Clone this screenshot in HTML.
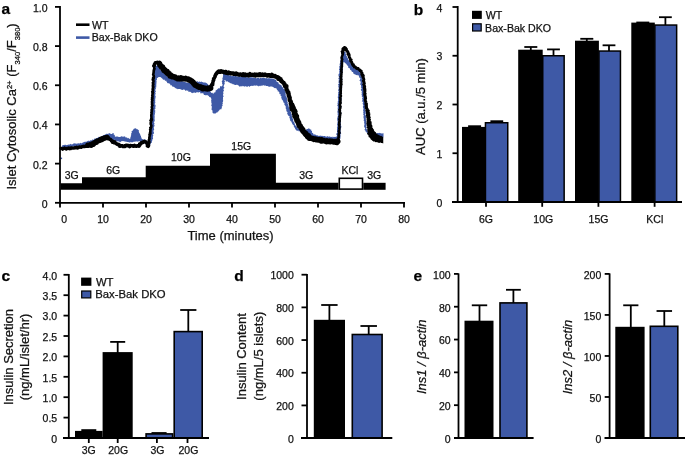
<!DOCTYPE html>
<html><head><meta charset="utf-8"><style>
html,body{margin:0;padding:0;background:#fff;width:685px;height:458px;overflow:hidden}
svg{display:block;will-change:transform}
text{font-family:"Liberation Sans", sans-serif;stroke:#111;stroke-width:0.25px;paint-order:stroke}
</style></head><body>
<svg width="685" height="458" viewBox="0 0 685 458">
<rect width="685" height="458" fill="#fff"/>
<path d="M60.5 189.8 L60.5 183.3 L82 183.3 L82 177.2 L145.7 177.2 L145.7 165.8 L210 165.8 L210 153.7 L275.9 153.7 L275.9 182.8 L338.5 182.8 L338.5 189.8 Z" fill="#000"/>
<path d="M363.3 189.8 L363.3 182.8 L385.6 182.8 L385.6 189.8 Z" fill="#000"/>
<rect x="339.3" y="178.3" width="23.2" height="10.8" fill="#fff" stroke="#000" stroke-width="1.6"/>
<text x="71.65" y="178.9" font-size="10.5" text-anchor="middle" font-weight="normal" font-style="normal" fill="#111" >3G</text>
<text x="113.2" y="173.7" font-size="10.5" text-anchor="middle" font-weight="normal" font-style="normal" fill="#111" >6G</text>
<text x="180.9" y="161" font-size="10.5" text-anchor="middle" font-weight="normal" font-style="normal" fill="#111" >10G</text>
<text x="241.3" y="149.7" font-size="10.5" text-anchor="middle" font-weight="normal" font-style="normal" fill="#111" >15G</text>
<text x="306.25" y="178.8" font-size="10.5" text-anchor="middle" font-weight="normal" font-style="normal" fill="#111" >3G</text>
<text x="350" y="173.7" font-size="10.5" text-anchor="middle" font-weight="normal" font-style="normal" fill="#111" >KCl</text>
<text x="374.3" y="178.8" font-size="10.5" text-anchor="middle" font-weight="normal" font-style="normal" fill="#111" >3G</text>
<path d="M61.99 145.22 L62.74 145.38 L63.43 145.06 L64.15 144.95 L64.85 144.67 L65.59 144.81 L66.36 145.15 L67.06 144.85 L67.80 144.96 L68.49 144.62 L69.21 144.59 L69.93 144.43 L70.58 143.76 L71.39 144.48 L72.10 144.28 L72.82 144.20 L73.46 143.42 L74.18 143.32 L74.93 143.51 L75.66 143.56 L76.41 143.72 L77.12 143.52 L77.86 143.62 L78.54 143.16 L79.29 143.38 L80.02 143.32 L80.64 142.82 L81.51 143.38 L82.11 142.84 L82.85 142.87 L83.39 142.13 L84.07 141.91 L84.79 141.86 L85.50 141.76 L86.24 141.81 L86.90 141.51 L87.54 141.12 L88.18 140.79 L88.91 140.74 L89.73 141.11 L90.26 140.30 L91.03 140.45 L91.74 140.33 L92.22 139.47 L93.11 139.63 L93.96 139.72 L94.25 138.44 L95.16 138.65 L95.89 138.43 L96.50 137.93 L97.36 138.03 L97.99 137.57 L98.52 136.87 L99.47 137.28 L100.12 136.96 L100.82 136.77 L101.55 136.65 L102.09 136.06 L102.73 135.72 L103.23 135.03 L104.13 135.33 L104.65 134.70 L105.34 134.47 L105.91 133.96 L106.62 133.78 L107.36 133.63 L108.18 134.16 L108.86 133.05 L109.62 133.18 L110.40 133.68 L111.09 134.11 L111.84 133.88 L112.62 133.14 L113.70 133.10 L113.63 134.47 L114.34 134.86 L114.87 135.39 L114.85 136.47 L115.75 136.63 L116.56 136.42 L117.34 136.53 L118.12 136.67 L118.86 137.12 L119.70 136.90 L120.42 136.76 L121.12 136.67 L121.73 135.90 L122.56 136.71 L123.15 136.50 L123.83 136.69 L124.88 136.31 L125.39 137.04 L125.88 137.80 L126.88 137.35 L127.41 137.96 L128.04 138.46 L128.87 137.85 L129.41 138.89 L130.30 138.64 L130.32 137.76 L130.63 137.07 L130.89 136.36 L130.89 135.60 L131.38 134.94 L130.98 134.09 L131.22 133.38 L131.83 132.75 L131.68 131.96 L131.56 131.17 L132.24 130.68 L132.96 130.43 L133.32 129.46 L133.86 128.75 L134.78 128.62 L135.50 128.15 L136.17 128.44 L136.54 129.25 L137.53 128.88 L137.71 129.78 L138.69 129.98 L138.87 130.71 L138.78 131.57 L138.96 132.30 L139.35 132.91 L139.75 133.50 L140.07 134.13 L140.32 134.78 L140.45 135.49 L140.93 136.06 L141.05 136.77 L141.22 137.46 L141.64 138.04 L141.74 138.88 L142.55 139.07 L143.12 139.72 L143.97 139.40 L144.74 139.37 L145.45 139.59 L145.98 140.15 L146.37 140.83 L147.19 140.97 L147.70 141.62 L148.74 141.48 L148.62 139.83 L149.49 139.81 L149.93 139.29 L150.03 138.58 L150.03 137.86 L149.86 137.13 L150.26 136.44 L150.19 135.72 L149.98 134.99 L150.98 134.34 L150.36 133.58 L150.12 132.84 L150.32 132.14 L150.33 131.42 L150.43 130.71 L149.63 129.94 L150.39 129.27 L150.92 128.59 L150.28 127.83 L150.68 127.14 L151.05 126.45 L151.07 125.73 L151.33 125.03 L150.36 124.25 L150.84 123.56 L150.89 122.85 L151.25 122.16 L151.45 121.45 L150.29 120.65 L151.55 120.02 L150.77 119.27 L151.48 118.58 L150.82 117.84 L151.38 117.15 L151.74 116.45 L151.34 115.71 L151.48 115.00 L151.71 114.30 L151.53 113.57 L151.49 112.86 L152.04 112.16 L151.91 111.44 L151.51 110.71 L152.52 110.04 L151.30 109.27 L152.00 108.58 L151.65 107.85 L151.81 107.14 L152.02 106.44 L151.90 105.72 L152.06 105.01 L151.40 104.26 L151.44 103.55 L152.15 102.87 L151.68 102.13 L151.69 101.41 L151.58 100.69 L152.48 100.02 L152.35 99.30 L152.61 98.59 L151.87 97.84 L152.21 97.14 L151.87 96.41 L152.51 95.73 L152.81 95.03 L152.05 94.27 L152.88 93.60 L152.73 92.87 L152.40 92.14 L151.87 91.39 L152.99 90.74 L152.54 90.00 L152.42 89.28 L152.78 88.58 L152.82 87.86 L153.21 87.17 L152.45 86.41 L153.17 85.73 L153.33 85.03 L153.35 84.31 L152.87 83.57 L152.73 82.84 L153.33 82.16 L153.08 81.43 L153.13 80.72 L153.58 80.03 L153.08 79.28 L152.47 78.53 L153.12 77.85 L152.69 77.11 L153.58 76.44 L153.46 75.72 L153.21 74.98 L153.54 74.27 L153.95 73.60 L153.86 72.82 L154.40 72.17 L154.11 71.36 L154.60 70.70 L154.89 70.00 L155.07 69.28 L154.50 68.41 L155.13 67.78 L154.53 66.62 L155.63 66.26 L156.30 65.58 L157.33 66.04 L158.22 66.17 L158.40 67.10 L158.95 67.76 L159.41 68.49 L160.10 68.93 L160.48 69.69 L160.68 70.59 L161.57 70.78 L161.94 71.44 L162.31 72.11 L163.08 72.43 L163.82 72.77 L164.12 73.47 L164.35 74.34 L165.48 74.14 L165.84 74.87 L166.08 75.73 L166.70 76.15 L167.43 76.43 L167.87 77.12 L168.65 77.22 L169.47 77.08 L170.19 77.24 L170.74 77.78 L171.22 78.51 L172.07 78.33 L172.79 78.50 L173.46 78.80 L174.23 78.84 L174.75 79.53 L175.55 79.48 L176.06 80.21 L177.12 79.62 L177.67 80.68 L178.56 80.62 L179.48 80.46 L180.05 81.53 L180.91 81.29 L181.77 80.75 L182.53 81.26 L183.29 81.71 L184.12 81.55 L184.85 82.10 L185.65 82.25 L186.46 82.39 L187.28 82.44 L188.03 82.92 L188.87 82.81 L189.68 82.84 L190.58 82.14 L191.26 83.18 L192.16 83.42 L192.73 82.61 L193.37 82.26 L194.35 82.67 L194.54 81.29 L195.49 81.64 L196.21 81.97 L196.95 80.98 L197.72 81.58 L198.50 82.04 L199.38 81.48 L200.17 81.78 L200.83 82.03 L201.63 81.60 L202.26 82.00 L202.92 82.26 L203.57 82.57 L204.32 82.45 L205.02 82.54 L205.98 82.63 L206.77 83.16 L207.41 83.81 L207.89 84.35 L208.48 84.96 L208.80 85.69 L208.08 86.87 L208.85 87.41 L209.31 88.07 L210.54 88.49 L209.81 89.56 L210.10 90.30 L209.99 91.17 L210.62 91.79 L211.02 92.49 L211.58 93.07 L212.67 92.85 L213.04 94.13 L213.62 93.30 L213.92 92.50 L214.94 92.38 L215.59 91.91 L215.39 90.63 L216.10 90.22 L216.86 89.87 L217.42 89.37 L217.87 88.75 L218.33 88.13 L219.54 88.41 L219.90 87.67 L220.02 86.64 L220.57 86.12 L221.77 86.40 L222.28 85.65 L222.64 84.80 L222.38 84.02 L221.90 83.23 L222.32 82.51 L221.61 81.69 L222.12 80.98 L222.40 80.25 L222.65 79.51 L222.31 78.73 L222.56 78.00 L222.85 77.24 L222.92 76.45 L223.10 75.68 L223.07 74.88 L223.00 74.07 L223.29 73.54 L223.94 73.76 L224.80 73.96 L225.47 74.18 L226.14 74.56 L226.88 74.70 L227.58 74.96 L228.31 75.09 L229.02 75.32 L229.77 75.40 L230.57 75.23 L231.18 75.93 L231.90 76.21 L232.65 76.09 L233.41 75.97 L234.12 76.25 L234.90 75.88 L235.66 75.66 L236.33 76.36 L237.10 76.13 L237.78 76.74 L238.54 76.19 L239.28 75.73 L239.98 76.27 L240.67 77.14 L241.42 76.54 L242.15 76.26 L242.87 76.49 L243.57 76.93 L244.29 76.96 L245.01 76.91 L245.69 77.37 L246.42 77.18 L247.15 76.99 L247.85 77.24 L248.54 77.63 L249.27 77.46 L249.98 77.53 L250.74 76.91 L251.43 77.27 L252.12 77.60 L252.86 77.33 L253.54 77.83 L254.27 77.73 L254.98 77.89 L255.74 77.57 L256.43 78.48 L257.18 78.10 L257.94 77.66 L258.67 77.80 L259.37 78.63 L260.12 77.71 L260.83 78.11 L261.54 78.16 L262.27 77.87 L262.99 77.51 L263.70 77.96 L264.43 78.06 L265.14 78.36 L265.88 78.30 L266.63 78.11 L267.35 78.42 L268.09 78.37 L268.83 78.33 L269.57 78.35 L270.31 78.32 L271.01 78.69 L271.80 78.20 L272.56 78.41 L273.20 78.98 L274.12 78.95 L274.67 79.62 L275.61 79.56 L276.13 80.32 L276.37 81.13 L276.87 81.63 L277.51 81.99 L278.05 82.45 L278.82 82.68 L278.59 83.91 L279.38 84.12 L279.75 84.75 L280.70 84.80 L281.04 85.46 L281.91 85.59 L281.82 86.68 L282.29 87.21 L283.49 87.15 L283.34 88.14 L283.47 88.89 L284.48 89.20 L284.82 89.84 L284.93 90.60 L285.13 91.31 L285.68 91.85 L285.59 92.70 L285.65 93.41 L285.65 94.14 L285.76 94.84 L285.63 95.59 L285.87 96.27 L286.77 96.83 L286.65 97.57 L286.95 98.24 L287.08 98.94 L286.89 99.70 L286.99 100.40 L286.97 101.13 L287.75 101.71 L287.76 102.43 L287.51 103.20 L287.82 103.88 L288.11 104.57 L288.30 105.29 L288.77 105.92 L288.59 106.78 L288.95 107.44 L289.35 108.09 L289.78 108.73 L289.89 109.48 L290.93 109.92 L290.62 110.84 L290.52 111.65 L291.21 112.24 L290.91 113.12 L291.14 113.84 L291.82 114.42 L291.69 115.25 L291.93 115.97 L291.91 116.77 L292.08 117.51 L292.49 118.17 L292.96 118.81 L293.00 119.58 L293.23 120.29 L293.25 121.08 L293.63 121.73 L294.19 122.32 L294.64 122.95 L294.60 123.76 L294.97 124.42 L295.30 125.00 L295.57 125.66 L296.19 126.05 L296.61 126.68 L297.06 127.27 L297.80 127.53 L297.76 128.67 L298.86 128.52 L299.38 129.37 L300.31 129.57 L300.98 130.34 L302.06 129.37 L302.83 130.01 L303.64 130.45 L304.55 130.69 L305.62 130.60 L305.90 129.58 L306.69 129.36 L307.35 128.96 L308.13 128.75 L308.77 128.36 L309.56 128.69 L310.17 129.40 L311.25 129.56 L311.05 130.62 L312.02 130.89 L312.05 131.73 L311.90 132.66 L312.92 132.91 L313.22 133.57 L313.37 134.50 L314.31 134.41 L315.10 134.35 L315.73 134.88 L316.42 135.18 L317.12 135.42 L317.95 135.16 L318.54 136.03 L319.24 136.08 L320.00 135.62 L320.69 135.78 L321.41 135.63 L322.05 136.29 L322.82 135.68 L323.48 136.20 L324.22 135.90 L324.92 135.91 L325.58 136.43 L326.30 136.68 L327.07 136.30 L327.82 136.14 L328.51 136.67 L329.27 136.45 L329.99 136.62 L330.70 137.06 L331.44 136.99 L332.21 136.51 L332.88 137.46 L333.67 136.79 L334.38 137.09 L335.15 136.69 L335.87 136.93 L336.25 136.57 L337.23 136.35 L337.16 135.64 L336.39 134.87 L336.36 134.16 L336.38 133.46 L337.33 132.83 L336.87 132.09 L337.06 131.40 L337.04 130.69 L337.16 130.00 L336.87 129.28 L337.24 128.57 L336.79 127.85 L337.24 127.14 L337.38 126.43 L337.45 125.72 L337.24 125.00 L337.04 124.28 L337.40 123.57 L337.21 122.85 L337.88 122.15 L337.65 121.43 L337.38 120.71 L337.28 120.00 L337.23 119.28 L337.17 118.56 L337.37 117.85 L337.59 117.15 L337.68 116.43 L337.72 115.72 L338.22 115.02 L337.34 114.28 L337.59 113.57 L338.49 112.88 L337.02 112.13 L337.47 111.42 L337.70 110.72 L337.72 110.00 L337.81 109.29 L337.62 108.57 L337.83 107.86 L337.75 107.14 L338.00 106.43 L337.16 105.70 L337.50 104.99 L337.80 104.29 L337.49 103.56 L337.50 102.85 L338.05 102.15 L337.66 101.42 L338.09 100.72 L338.14 100.01 L338.03 99.29 L338.12 98.58 L337.95 97.86 L337.56 97.12 L338.03 96.43 L338.22 95.72 L337.93 94.99 L338.10 94.28 L338.40 93.58 L337.90 92.85 L338.42 92.15 L338.84 91.45 L338.09 90.71 L338.35 90.00 L338.28 89.28 L338.85 88.59 L338.49 87.86 L338.70 87.15 L338.22 86.42 L338.47 85.71 L338.50 85.00 L337.96 84.26 L339.02 83.59 L338.87 82.87 L338.06 82.12 L338.88 81.44 L338.63 80.71 L338.84 80.01 L338.85 79.29 L338.28 78.55 L338.72 77.85 L339.29 77.16 L338.66 76.42 L338.54 75.70 L338.47 74.98 L338.54 74.27 L339.06 73.58 L339.53 72.88 L339.15 72.15 L339.12 71.43 L339.79 70.74 L338.93 69.99 L338.99 69.26 L339.47 68.59 L339.57 67.88 L339.18 67.10 L339.23 66.38 L339.79 65.73 L339.88 65.01 L339.49 64.23 L339.94 63.56 L339.93 62.83 L340.35 62.16 L340.26 61.42 L340.37 60.71 L340.39 59.98 L340.93 59.33 L341.14 58.63 L340.68 57.84 L341.17 57.18 L340.76 56.39 L341.12 55.72 L341.43 55.07 L341.94 54.53 L341.69 53.62 L342.08 52.99 L342.46 52.36 L342.26 51.47 L343.00 51.00 L343.76 51.14 L344.28 51.77 L345.27 51.75 L345.85 52.44 L345.50 53.34 L345.69 54.03 L346.19 54.60 L346.01 55.44 L346.61 55.97 L346.97 56.60 L346.90 57.39 L347.74 57.76 L347.91 58.49 L348.17 59.22 L348.38 59.99 L349.08 60.41 L349.39 61.11 L350.07 61.55 L350.25 62.33 L350.33 63.20 L351.38 63.37 L351.04 64.52 L352.23 64.48 L352.50 65.17 L352.89 65.76 L353.11 66.48 L354.11 66.59 L354.76 66.98 L354.51 68.06 L354.95 68.70 L355.72 68.98 L356.17 69.87 L357.17 69.46 L357.87 69.77 L358.41 70.23 L358.88 70.66 L358.91 71.48 L360.07 71.59 L360.22 72.34 L361.50 72.54 L360.50 73.85 L361.11 74.50 L360.97 75.39 L360.84 76.28 L361.75 76.83 L362.08 77.58 L362.27 78.31 L362.50 79.04 L362.55 79.78 L362.26 80.59 L362.57 81.29 L362.67 82.03 L362.86 82.76 L362.63 83.55 L362.88 84.27 L363.20 84.98 L363.06 85.76 L363.43 86.45 L363.87 87.15 L363.11 87.99 L363.51 88.69 L364.04 89.38 L363.46 90.19 L363.77 90.90 L364.46 91.58 L363.53 92.42 L364.01 93.12 L363.91 93.88 L364.21 94.59 L364.39 95.32 L364.92 96.01 L364.19 96.83 L364.57 97.54 L364.75 98.27 L364.62 99.03 L364.78 99.76 L364.67 100.51 L365.08 101.22 L365.05 101.97 L365.80 102.64 L365.33 103.43 L365.05 104.21 L364.92 104.97 L365.54 105.65 L365.54 106.40 L365.02 107.13 L365.66 107.83 L365.34 108.56 L365.07 109.28 L365.62 109.98 L365.27 110.71 L365.91 111.40 L365.64 112.13 L365.76 112.84 L365.73 113.56 L365.43 114.29 L365.05 115.02 L366.05 115.70 L366.05 116.41 L365.74 117.14 L366.26 117.84 L365.79 118.57 L365.79 119.29 L366.09 120.00 L365.88 120.74 L366.59 121.42 L365.89 122.20 L366.68 122.88 L366.45 123.62 L366.45 124.35 L366.45 125.08 L366.09 125.84 L366.38 126.55 L366.58 127.26 L366.33 128.04 L366.33 128.90 L367.10 129.40 L367.29 130.15 L367.34 130.96 L367.94 131.56 L368.79 131.33 L369.09 132.69 L369.78 132.82 L370.86 131.76 L371.34 132.57 L371.97 132.93 L372.77 133.19 L373.58 133.17 L374.41 132.95 L375.23 132.78 L376.00 133.23 L376.73 133.57 L377.52 132.93 L378.27 132.99 L379.00 133.35 L379.78 132.78 L380.50 133.36 L381.26 133.34 L381.99 133.66 L382.76 133.34 L383.52 133.32 L383.50 137.13 L382.78 137.02 L382.06 137.21 L381.33 137.00 L380.61 136.76 L379.89 136.62 L379.17 136.45 L378.44 137.25 L377.72 137.13 L376.94 137.79 L376.39 136.30 L375.57 137.03 L374.90 136.71 L374.22 136.43 L373.44 136.93 L372.82 136.25 L372.10 136.31 L371.32 136.78 L370.71 136.01 L370.17 135.66 L369.08 135.92 L369.18 134.82 L368.55 134.45 L368.11 133.89 L367.60 133.40 L367.30 132.70 L366.45 132.55 L366.22 131.83 L365.49 131.40 L365.40 130.55 L364.55 130.08 L364.69 129.29 L365.21 128.52 L364.73 127.84 L364.46 127.15 L364.08 126.47 L364.12 125.74 L364.36 124.99 L364.53 124.26 L364.29 123.56 L364.25 122.84 L364.00 122.14 L364.37 121.39 L363.75 120.73 L363.62 120.01 L364.04 119.27 L363.74 118.57 L363.58 117.86 L363.45 117.15 L363.51 116.43 L363.75 115.69 L363.62 114.98 L363.08 114.30 L363.56 113.55 L363.44 112.84 L363.02 112.15 L363.54 111.40 L363.16 110.70 L363.10 109.99 L363.42 109.25 L363.55 108.52 L362.86 107.84 L363.18 107.11 L362.72 106.42 L363.67 105.59 L362.70 104.94 L363.17 104.15 L362.52 103.47 L362.91 102.68 L363.29 101.90 L361.71 101.31 L362.31 100.51 L362.54 99.74 L362.28 99.02 L362.03 98.30 L362.85 97.47 L362.13 96.80 L361.50 96.12 L362.22 95.29 L361.32 94.64 L362.16 93.81 L361.53 93.13 L361.68 92.36 L361.96 91.59 L361.52 90.89 L360.96 90.20 L360.79 89.47 L361.63 88.64 L361.41 87.91 L360.84 87.23 L361.26 86.42 L361.04 85.70 L360.98 84.95 L359.95 84.35 L360.47 83.52 L360.74 82.73 L360.58 82.00 L360.52 81.25 L359.35 80.67 L360.08 79.81 L360.07 79.05 L360.62 78.22 L359.41 77.70 L359.21 76.95 L358.91 76.19 L358.68 75.28 L357.76 75.44 L357.20 74.75 L356.33 75.14 L355.72 74.62 L354.91 74.65 L354.54 73.96 L353.84 73.66 L353.14 73.36 L353.25 72.25 L352.57 71.93 L351.87 71.63 L351.55 70.95 L351.24 70.29 L350.32 70.12 L350.11 69.38 L349.85 68.68 L349.42 68.11 L348.77 67.71 L347.89 67.48 L348.32 66.27 L347.69 65.84 L347.20 65.30 L346.73 64.75 L346.47 64.05 L345.89 63.59 L345.27 63.23 L344.83 62.67 L344.43 62.18 L343.75 62.20 L343.25 62.27 L342.76 62.71 L343.34 63.46 L342.67 64.15 L343.16 64.90 L342.69 65.59 L342.32 66.30 L342.66 67.04 L342.91 67.77 L342.62 68.48 L342.55 69.20 L343.11 69.95 L342.71 70.65 L342.43 71.36 L342.59 72.09 L342.37 72.80 L342.13 73.51 L342.08 74.23 L341.99 74.94 L342.05 75.67 L342.29 76.41 L342.17 77.12 L342.21 77.84 L342.18 78.57 L342.10 79.28 L342.55 80.02 L342.08 80.72 L341.96 81.43 L342.24 82.15 L341.91 82.86 L341.72 83.57 L341.91 84.29 L341.17 84.98 L342.64 85.74 L341.85 86.43 L342.35 87.16 L341.42 87.85 L340.87 88.54 L342.49 89.31 L341.63 90.00 L341.48 90.71 L341.72 91.43 L341.42 92.14 L342.29 92.88 L341.28 93.56 L341.40 94.28 L341.49 95.00 L341.66 95.72 L341.25 96.42 L341.58 97.15 L341.33 97.85 L341.54 98.58 L342.08 99.31 L341.34 100.00 L341.24 100.71 L341.04 101.42 L341.54 102.15 L341.25 102.86 L341.02 103.56 L341.14 104.28 L340.77 104.99 L340.51 105.69 L341.41 106.44 L341.71 107.16 L340.80 107.85 L340.56 108.56 L340.73 109.28 L340.74 109.99 L341.19 110.71 L341.20 111.42 L340.68 112.12 L341.24 112.83 L341.52 113.55 L341.25 114.25 L340.12 114.94 L340.29 115.65 L341.11 116.37 L341.11 117.08 L340.79 117.78 L341.09 118.49 L340.42 119.19 L340.85 119.90 L341.16 120.62 L340.39 121.31 L340.98 122.03 L340.71 122.73 L340.77 123.44 L340.86 124.15 L340.64 124.85 L340.95 125.56 L341.31 126.28 L341.41 126.99 L341.10 127.69 L340.93 128.39 L340.68 129.10 L340.64 129.80 L340.47 130.51 L340.60 131.22 L340.88 131.93 L340.84 132.64 L341.28 133.35 L340.64 134.05 L340.42 134.75 L340.39 135.46 L340.59 136.17 L340.59 136.88 L340.22 137.58 L340.51 138.29 L340.33 138.84 L339.78 138.88 L339.09 139.07 L338.36 138.78 L337.72 139.45 L337.01 139.45 L336.32 139.66 L335.62 139.72 L334.85 139.04 L334.15 139.04 L333.50 139.66 L332.78 139.55 L332.06 139.43 L331.38 139.61 L330.66 139.55 L330.00 140.40 L329.27 140.13 L328.59 139.71 L327.90 139.33 L327.15 139.68 L326.40 139.92 L325.70 139.68 L324.98 139.71 L324.26 139.70 L323.62 138.88 L322.84 139.48 L322.14 139.21 L321.50 138.45 L320.75 138.69 L320.01 138.89 L319.27 139.09 L318.62 138.67 L317.97 138.19 L317.23 138.40 L316.56 138.10 L315.80 138.37 L315.12 138.14 L314.39 138.26 L313.72 137.96 L313.14 137.61 L312.14 138.03 L311.72 137.29 L311.13 136.84 L310.36 136.70 L309.77 136.27 L309.31 135.60 L308.86 134.90 L308.01 134.92 L307.32 134.64 L306.39 134.79 L306.27 133.44 L305.29 133.69 L304.57 133.44 L303.72 133.48 L303.14 132.87 L302.30 132.90 L301.72 132.26 L301.06 131.86 L300.32 131.71 L299.66 131.35 L298.84 131.39 L298.43 130.43 L297.49 130.76 L296.66 130.82 L296.16 130.05 L295.61 129.53 L295.15 128.98 L294.94 128.26 L294.72 127.55 L293.94 127.21 L293.83 126.42 L293.86 125.55 L293.27 125.08 L292.66 124.62 L292.41 123.93 L292.02 123.32 L291.71 122.66 L291.61 121.90 L291.05 121.36 L290.06 121.04 L290.42 120.05 L289.84 119.51 L290.04 118.63 L289.40 118.07 L289.36 117.28 L289.71 116.36 L288.49 116.02 L288.20 115.33 L287.86 114.66 L287.30 114.07 L287.20 113.31 L287.61 112.36 L287.04 111.81 L286.41 111.28 L286.25 110.57 L286.61 109.65 L285.92 109.15 L285.78 108.43 L285.71 107.68 L285.75 106.88 L285.65 106.15 L285.11 105.58 L284.58 105.02 L284.32 104.35 L284.54 103.48 L284.15 102.86 L283.37 102.40 L283.33 101.64 L283.01 100.99 L282.67 100.35 L282.24 99.74 L281.72 99.17 L281.69 98.41 L281.12 97.86 L281.67 96.86 L281.20 96.27 L280.41 95.81 L280.90 94.79 L280.33 94.22 L279.17 94.10 L279.76 92.82 L279.08 92.38 L279.01 91.54 L277.72 91.51 L277.78 90.58 L277.34 89.98 L276.87 89.40 L276.45 88.79 L276.22 87.94 L275.09 88.29 L274.43 87.88 L273.71 87.58 L273.12 87.00 L272.46 86.69 L271.77 86.38 L271.03 86.41 L270.30 86.49 L269.57 86.72 L268.83 86.64 L268.14 86.20 L267.43 86.08 L266.64 86.10 L265.87 86.05 L265.29 85.28 L264.39 85.77 L263.71 85.19 L262.93 85.13 L262.28 85.68 L261.51 85.44 L260.88 86.15 L260.07 85.58 L259.40 85.94 L258.61 86.42 L257.96 85.62 L257.17 86.03 L256.51 85.26 L255.71 85.80 L255.00 85.55 L254.27 85.51 L253.59 85.81 L252.85 85.72 L252.17 86.08 L251.40 85.79 L250.71 86.10 L249.99 86.13 L249.34 87.12 L248.55 85.91 L247.86 86.32 L247.18 86.94 L246.43 86.38 L245.71 86.31 L244.99 86.16 L244.28 86.83 L243.58 85.98 L242.86 86.51 L242.16 85.68 L241.43 86.48 L240.72 86.20 L239.98 86.52 L239.16 86.46 L238.70 85.53 L237.96 85.31 L237.32 84.85 L236.53 84.79 L235.65 84.94 L234.84 85.01 L234.19 84.50 L233.43 84.31 L232.65 84.15 L232.01 83.52 L231.24 83.40 L230.51 83.27 L229.92 82.83 L229.23 82.60 L228.63 82.19 L228.05 81.72 L227.43 81.35 L226.55 81.51 L225.74 81.41 L225.63 80.14 L224.69 79.96 L224.28 80.68 L225.08 81.48 L224.59 82.15 L224.41 82.86 L224.80 83.62 L224.44 84.30 L223.97 84.98 L223.79 85.68 L223.55 86.38 L224.26 87.17 L224.36 87.90 L223.68 88.55 L223.47 89.26 L223.64 89.99 L224.04 90.76 L223.31 91.40 L223.23 92.12 L223.24 92.84 L223.50 93.59 L223.17 94.28 L222.95 94.98 L223.36 95.71 L223.75 96.42 L223.03 97.10 L222.97 97.80 L223.10 98.50 L222.80 99.19 L223.25 99.91 L223.07 100.60 L223.12 101.30 L222.82 101.99 L222.47 102.69 L223.04 103.40 L222.28 104.08 L222.43 104.79 L222.65 105.44 L222.39 106.12 L221.71 106.65 L221.93 107.63 L221.57 108.32 L221.47 109.21 L220.53 109.35 L219.77 109.60 L219.36 110.27 L218.80 110.76 L218.35 111.38 L217.70 111.76 L217.44 112.62 L216.37 112.47 L216.05 113.32 L215.25 113.60 L214.47 113.54 L213.69 113.61 L213.05 113.17 L213.05 112.63 L212.12 112.15 L212.65 111.28 L212.45 110.61 L211.82 110.03 L211.48 109.28 L211.68 108.51 L211.67 107.76 L211.94 106.99 L211.68 106.26 L211.10 105.54 L211.78 104.75 L211.18 104.03 L211.91 103.23 L211.20 102.52 L211.32 101.76 L211.23 101.04 L211.13 100.22 L211.50 99.25 L211.16 98.46 L210.87 97.61 L210.23 97.13 L209.28 97.06 L208.97 96.32 L208.42 95.83 L207.88 95.49 L207.18 94.97 L206.31 95.30 L205.44 95.22 L204.69 94.96 L203.88 94.91 L203.60 93.82 L203.04 93.27 L202.21 93.26 L201.38 93.25 L200.47 93.41 L200.21 92.25 L199.33 92.01 L198.55 92.41 L197.70 92.31 L196.86 92.23 L196.09 92.44 L195.29 92.90 L194.52 92.38 L193.71 92.43 L192.88 93.13 L192.07 92.73 L191.26 92.76 L190.75 92.10 L190.17 91.63 L189.31 91.85 L188.52 91.88 L188.22 90.60 L187.32 90.72 L186.59 90.22 L185.62 90.94 L184.97 90.03 L184.23 89.55 L183.43 89.41 L182.49 89.95 L181.72 89.64 L180.89 89.61 L180.16 89.09 L179.37 88.91 L178.51 89.05 L177.61 89.35 L176.95 88.53 L176.05 88.74 L175.52 88.03 L174.78 87.73 L174.31 86.95 L173.55 86.69 L172.61 86.72 L172.06 86.11 L171.78 85.30 L170.75 85.42 L170.37 84.72 L169.95 84.07 L169.39 83.60 L168.68 83.33 L167.74 83.33 L167.18 82.86 L166.91 82.02 L166.36 81.53 L166.22 80.53 L164.97 80.93 L164.80 79.97 L164.15 79.61 L163.09 79.76 L162.68 79.09 L162.29 78.38 L161.58 78.08 L161.08 77.54 L160.31 77.01 L159.41 77.06 L158.53 77.07 L157.89 77.78 L157.14 78.11 L156.76 78.69 L157.04 79.43 L156.70 80.11 L156.21 80.77 L156.64 81.53 L156.62 82.24 L156.27 82.92 L156.55 83.66 L156.02 84.32 L156.70 85.10 L156.03 85.75 L156.32 86.49 L156.34 87.20 L155.45 87.83 L156.21 88.62 L155.31 89.24 L155.59 89.99 L155.31 90.70 L156.06 91.44 L155.33 92.13 L155.22 92.84 L155.69 93.57 L155.67 94.29 L154.81 94.97 L155.51 95.71 L155.68 96.43 L155.72 97.15 L155.34 97.85 L155.35 98.57 L155.37 99.28 L154.85 99.98 L155.48 100.72 L155.19 101.42 L154.85 102.12 L155.61 102.87 L154.93 103.56 L154.64 104.26 L155.63 105.02 L155.52 105.73 L155.47 106.44 L155.70 107.17 L154.94 107.85 L155.65 108.60 L154.87 109.28 L154.54 109.98 L155.47 110.75 L155.02 111.43 L155.48 112.18 L154.58 112.84 L155.02 113.59 L154.83 114.29 L154.68 115.00 L154.48 115.70 L154.73 116.44 L154.57 117.14 L154.70 117.87 L154.45 118.57 L154.82 119.31 L154.38 120.00 L154.97 120.75 L154.47 121.44 L153.66 122.11 L154.20 122.86 L154.59 123.60 L154.06 124.28 L154.41 125.02 L154.58 125.75 L154.25 126.44 L153.74 127.13 L153.81 127.85 L153.92 128.57 L154.14 129.30 L154.14 130.03 L153.28 130.66 L153.54 131.42 L153.82 132.18 L154.10 132.94 L153.77 133.63 L152.46 134.18 L153.51 135.05 L153.08 135.72 L152.90 136.42 L152.92 137.15 L152.87 137.87 L153.12 138.63 L152.93 139.33 L151.98 139.86 L152.44 140.76 L151.68 141.23 L152.15 142.21 L151.45 142.70 L151.01 143.30 L150.53 143.81 L150.53 144.75 L149.64 144.83 L149.17 145.36 L148.89 146.11 L148.11 146.31 L147.64 147.18 L147.03 146.34 L146.77 145.50 L145.59 145.28 L145.83 144.12 L145.18 143.64 L144.49 143.46 L143.94 142.80 L143.41 142.10 L142.54 142.08 L142.00 141.21 L141.19 141.97 L140.48 142.02 L139.77 141.10 L139.06 141.47 L138.34 141.30 L137.63 141.86 L136.92 141.34 L136.21 141.52 L135.49 141.39 L134.74 141.68 L133.94 141.39 L133.25 142.06 L132.51 142.25 L131.77 142.50 L130.92 141.75 L130.19 142.44 L129.44 142.41 L128.75 142.26 L128.08 141.98 L127.33 142.12 L126.68 141.69 L125.97 141.68 L125.27 141.53 L124.55 141.54 L123.90 141.11 L123.20 141.15 L122.49 141.08 L121.79 141.16 L121.08 141.25 L120.52 142.17 L119.69 141.77 L118.85 141.65 L118.19 140.96 L117.23 141.49 L116.51 141.02 L115.76 140.69 L114.97 140.50 L114.24 139.85 L113.27 140.04 L112.64 139.45 L111.75 140.06 L111.01 140.02 L110.48 138.92 L109.68 139.01 L108.93 138.85 L108.16 138.81 L107.40 138.55 L106.75 139.22 L105.89 138.69 L105.26 139.29 L104.44 138.96 L103.77 139.38 L103.17 140.17 L102.40 140.10 L101.53 139.48 L100.88 140.02 L100.17 140.24 L99.41 140.18 L98.74 140.53 L98.07 140.86 L97.29 140.97 L96.58 141.26 L95.71 141.15 L95.19 141.89 L94.26 141.65 L93.57 141.97 L92.88 142.30 L92.27 142.79 L91.69 143.36 L91.00 143.53 L90.33 143.79 L89.69 144.14 L88.95 144.10 L88.31 144.45 L87.44 143.91 L86.84 144.43 L86.23 144.90 L85.65 145.53 L84.82 145.12 L84.16 145.41 L83.52 145.78 L82.84 145.97 L82.24 146.49 L81.33 145.78 L80.69 146.15 L79.86 145.49 L79.28 146.38 L78.56 146.48 L77.80 146.04 L77.12 146.53 L76.39 146.59 L75.69 146.83 L74.98 146.97 L74.19 146.37 L73.49 146.59 L72.75 146.43 L72.09 147.16 L71.36 147.11 L70.67 147.46 L69.89 146.94 L69.24 147.76 L68.46 147.21 L67.73 147.11 L67.00 147.07 L66.35 147.89 L65.57 147.31 L64.90 147.96 L64.18 148.04 L63.48 148.29 L62.69 147.56 L61.95 147.47 Z" fill="#3E59A6"/>
<rect x="60.6" y="157.6" width="1.5" height="1.5" fill="#3E59A6"/>
<polyline points="60.80,148.42 61.41,148.36 62.02,148.47 62.66,149.31 63.26,148.85 63.86,148.37 64.47,147.98 65.09,148.30 65.71,148.85 66.33,149.04 66.93,148.39 67.54,148.25 68.16,148.29 68.76,147.86 69.39,148.69 69.98,148.07 70.66,148.65 71.19,147.75 71.83,147.82 72.51,148.21 73.10,147.83 73.78,148.22 74.38,147.92 74.96,147.50 75.65,147.97 76.28,147.96 76.81,147.07 77.56,148.12 78.14,147.65 78.77,147.66 79.31,146.81 79.97,147.09 80.63,147.10 81.34,147.42 81.87,146.57 82.54,146.64 83.13,146.20 83.86,146.63 84.53,146.70 85.08,146.00 85.76,146.23 86.52,146.32 87.30,146.40 87.89,145.91 88.47,145.41" fill="none" stroke="#000" stroke-width="3.2" stroke-linejoin="round" stroke-linecap="round"/>
<polyline points="87.90,145.26 88.54,145.15 89.18,145.04 89.86,145.09 90.46,144.85 91.23,145.16 91.73,144.58 92.14,143.93 93.07,144.35 93.57,143.91 94.05,143.39 94.52,142.89 94.92,142.31 95.61,142.16 96.52,142.26 96.82,141.45 97.32,140.94 98.15,140.93 98.73,140.56 99.36,140.42 99.95,140.18 100.63,140.14 100.95,139.27 101.75,139.52 102.11,138.73 102.89,138.94 103.42,138.55 104.08,138.27 104.82,138.16 105.35,137.60 106.14,137.60" fill="none" stroke="#000" stroke-width="5.4" stroke-linejoin="round" stroke-linecap="round"/>
<polyline points="105.09,137.85 105.61,137.41 106.14,136.99 106.72,136.71 107.44,136.55 107.90,137.16 108.31,137.70 108.09,138.80 109.07,138.84 109.55,139.30 110.37,139.36 110.84,139.82 111.26,140.34 111.66,140.89 112.40,141.04 112.43,142.10 113.36,141.83 113.73,142.56 114.76,141.92 115.03,142.83 115.58,143.19 116.17,143.45 116.59,143.92 117.15,144.21 117.67,144.55 118.54,144.43 118.83,145.09 119.62,145.06 119.64,146.18 120.37,146.09 121.04,145.94 121.71,145.75 122.39,145.83 123.06,146.55 123.73,146.52 124.40,145.98 125.08,146.34 125.68,145.44 126.33,145.29 127.02,145.68 127.67,145.52 128.33,145.58 129.00,145.76 129.67,146.61 130.34,145.50 131.01,145.71 131.69,145.78 132.36,145.69 133.03,145.98 133.65,146.23 134.43,145.45 135.03,145.98 135.73,145.96 136.37,146.26 137.13,145.82 137.82,145.87 138.19,145.84 138.95,146.15 139.32,145.61 139.73,145.13 139.63,144.16 140.51,144.11 140.86,143.57 141.15,142.97 141.72,142.59 142.59,142.60 143.14,142.19 143.62,141.67 144.21,141.45 144.88,141.44 145.39,141.92 145.99,142.21 146.48,142.62 146.90,143.11 147.21,143.72 147.49,144.33 147.91,144.89 147.41,145.86 148.16,146.26" fill="none" stroke="#000" stroke-width="3.6" stroke-linejoin="round" stroke-linecap="round"/>
<polyline points="148.43,146.22 149.07,145.67 148.90,145.00 148.11,144.24 148.88,143.71 149.01,143.08 149.41,142.50 149.34,141.84 149.27,141.19 148.78,140.47 148.96,139.85 149.40,139.27 149.56,138.65 149.20,137.96 149.45,137.39 149.50,136.79 149.70,136.20 149.84,135.61 149.71,134.99 149.49,134.36 150.29,133.84 150.46,133.25 150.01,132.60 150.41,132.03 150.29,131.41 150.42,130.82 150.42,130.21 150.11,129.58 150.57,129.02 150.76,128.43 150.25,127.77 151.17,127.26 151.26,126.66 151.24,126.05 151.34,125.43 151.01,124.78 150.73,124.15 150.69,123.53 150.67,122.91 150.99,122.31 150.99,121.69 151.24,121.09 150.48,120.42 151.82,119.89 151.85,119.28 151.20,118.61 151.45,118.01 151.43,117.39 151.42,116.77 151.31,116.15 151.38,115.54 151.21,114.91 151.56,114.31 151.54,113.69 151.68,113.08 151.37,112.44 151.68,111.85 151.73,111.23 151.94,110.63 151.48,109.98 151.96,109.40 152.16,108.80 152.07,108.19 151.81,107.57 151.80,106.96 151.91,106.36 152.23,105.77 152.51,105.17 152.03,104.54 151.91,103.93 152.25,103.34 152.22,102.73 151.92,102.11 152.00,101.50 152.22,100.91 152.49,100.31 151.96,99.68 152.04,99.08 152.53,98.49 152.04,97.86 152.47,97.27 152.57,96.67 152.46,96.06 152.22,95.44 152.54,94.85 152.49,94.24 152.72,93.64 152.40,93.02 153.01,92.44 152.21,91.79 152.69,91.21 152.77,90.61 153.09,90.01 152.64,89.39 153.02,88.81 152.71,88.19 153.13,87.61 153.45,87.02 152.84,86.39 153.12,85.81 152.74,85.19 153.33,84.61 153.43,84.02 153.10,83.40 152.78,82.78 153.27,82.21 153.52,81.62 153.53,81.01 153.47,80.41 152.70,79.78 153.08,79.19 153.73,78.62 152.97,77.98 153.70,77.42 153.95,76.83 153.64,76.21 153.78,75.61 153.37,75.00 153.13,74.38 153.49,73.80 153.49,73.20 153.56,72.60 153.81,72.02 153.64,71.36 153.82,70.73 153.97,70.11 153.93,69.45 154.56,68.89 154.22,68.20 154.20,67.55 154.19,66.90 154.15,66.25 154.82,65.69 154.54,65.01" fill="none" stroke="#000" stroke-width="2.6" stroke-linejoin="round" stroke-linecap="round"/>
<polyline points="153.69,65.90 154.04,65.32 154.36,64.74 154.47,64.08 155.06,63.69 155.19,62.77 156.05,62.74 156.67,62.64 157.33,62.25 158.00,62.61 158.52,62.98 158.91,63.52 159.58,63.69 159.94,64.27" fill="none" stroke="#000" stroke-width="3.4" stroke-linejoin="round" stroke-linecap="round"/>
<polyline points="159.37,63.46 159.74,64.13 159.83,65.06 160.27,65.66 161.00,66.00 161.52,66.36 161.50,67.15 162.62,67.04 162.69,67.75 162.72,68.50 163.10,68.97 163.87,69.13 164.42,69.42 164.15,70.53 164.86,70.66 165.52,70.84 165.77,71.46 166.04,72.05 167.19,71.70 166.88,72.92 167.40,73.25 168.39,73.01 168.37,74.04 169.31,73.76 169.30,74.83 169.93,75.00 170.11,75.80 171.11,75.45 171.50,75.95 171.86,76.58 172.65,76.33 173.24,76.53 173.80,76.84 174.35,77.14 175.04,77.07 175.46,77.72 176.06,77.96 176.76,77.95 177.33,78.57 178.12,78.10 178.69,78.72 179.47,78.31 180.07,78.82 180.81,78.07 181.43,78.76 182.10,78.70 182.78,78.65 183.45,78.67 184.11,78.80 184.79,78.75 185.50,78.38 186.12,78.92 186.78,79.00 187.45,79.08 188.18,78.99 188.69,79.51 189.15,80.00 189.84,79.96 190.44,80.14 190.80,80.89 191.41,81.03 191.93,81.22 192.24,81.75 193.01,82.03 193.37,82.61 193.49,83.37 194.30,83.61 194.61,84.24 194.93,84.89 195.50,85.18 196.14,85.28 196.52,85.89 197.22,85.85 197.65,86.37 198.16,86.74 198.76,86.90 199.31,87.20 200.13,86.89 200.76,87.06 201.30,87.47 201.81,87.99 202.32,88.50 203.21,87.94 203.68,88.59 204.33,88.24 204.96,88.28 205.59,88.42 206.21,88.71 206.84,88.56 207.47,88.85 208.07,88.21 208.78,88.64 209.40,88.52 209.98,88.15 210.63,88.14" fill="none" stroke="#000" stroke-width="5.6" stroke-linejoin="round" stroke-linecap="round"/>
<polyline points="210.45,86.92 210.66,86.22 211.19,85.69 211.48,85.03 212.79,84.85 212.08,83.81 212.90,83.37 212.70,82.59 212.95,81.96 213.28,81.36 213.06,80.57 213.76,80.09 213.83,79.44 213.52,78.64 214.34,78.26 214.54,77.66 214.74,77.05 215.28,76.57 214.94,75.76 215.42,75.25 215.69,74.72 215.75,73.99 216.62,74.03 216.50,73.04 216.96,72.65 217.78,72.63 217.87,71.86" fill="none" stroke="#000" stroke-width="3.4" stroke-linejoin="round" stroke-linecap="round"/>
<polyline points="218.09,72.07 218.67,71.51 219.40,71.92 220.00,71.46 220.72,71.80 221.28,71.15 221.99,71.63 222.60,71.61 223.14,71.89 223.72,72.04 224.27,72.28 224.98,72.05 225.67,71.88 226.00,72.81 226.68,72.60 227.32,72.81 227.94,73.15 228.67,72.51 229.28,72.95 229.92,73.07 230.59,73.01 231.19,73.50 231.81,73.43 232.43,73.30 233.04,73.32 233.57,73.93 234.22,73.57 234.78,74.01 235.38,74.04 236.07,73.42 236.64,73.73 237.20,74.13 237.79,74.30 238.37,74.50 238.97,74.57 239.57,74.71 240.21,74.36 240.81,74.47 241.37,74.83 242.01,74.54 242.56,75.05 243.25,74.33 243.78,75.06 244.41,74.88 245.04,74.41 245.62,75.31 246.25,75.12 246.87,75.04 247.51,74.73 248.13,74.92 248.74,75.53 249.38,74.84 250.00,74.06 250.62,74.83 251.24,74.72 251.87,75.02 252.50,74.93 253.12,74.76 253.74,74.77 254.38,75.33 254.99,74.57 255.66,75.56 256.25,74.78 256.87,74.59 257.53,75.12 258.15,75.03 258.76,74.52 259.40,75.02 260.03,74.26 260.64,74.55 261.24,75.18 261.86,74.78 262.48,74.48 263.08,75.04 263.69,75.17 264.33,74.94 264.99,74.44 265.59,74.92 266.21,75.20 266.83,75.34 267.43,75.71 268.11,75.12 268.74,75.11 269.36,75.30 269.95,75.73 270.64,75.15 271.21,75.88 271.95,74.72 272.45,75.83 273.17,75.59 273.69,76.10 274.28,76.35 275.06,76.00 275.58,76.50 276.16,76.78 276.72,77.06 277.46,77.03 277.97,77.37 278.64,77.50 278.36,78.95 279.33,78.64 279.84,78.99 280.60,79.06 280.55,80.07 281.32,80.26 281.33,81.14 281.91,81.51 282.55,81.82 282.83,82.43 283.61,82.65 283.73,83.30 284.12,83.78 284.62,84.20 284.62,84.93 284.99,85.43 284.91,86.20 286.50,86.05 286.03,87.04 286.33,87.63 286.44,88.29 286.43,89.00 286.67,89.61 287.02,90.18 287.40,90.74 287.36,91.45 287.59,92.03 288.41,92.43 288.14,93.18 288.65,93.68 288.78,94.29 288.59,95.01 288.80,95.61 288.98,96.21 289.45,96.72 289.44,97.39 289.82,97.95 289.62,98.67 289.71,99.30 289.58,100.00 289.90,100.57 290.68,101.01 290.75,101.65 291.07,102.21 290.93,102.93 290.67,103.70 291.24,104.17 292.28,104.48 292.23,105.17 292.45,105.77 292.15,106.55" fill="none" stroke="#000" stroke-width="4.2" stroke-linejoin="round" stroke-linecap="round"/>
<polyline points="292.00,106.00 292.15,106.63 291.97,107.39 292.93,107.71 293.15,108.32 292.57,109.20 293.24,109.63 293.76,110.12 294.33,110.60 294.40,111.25 294.87,111.76 294.37,112.61 294.59,113.20 294.53,113.89 295.06,114.36 295.43,114.90 295.65,115.48 295.12,116.34 296.37,116.55 296.03,117.34 296.28,117.91 296.33,118.57 296.87,119.06 296.87,119.78 297.04,120.43 297.56,120.93 297.90,121.50 298.08,122.15 298.56,122.67 298.60,123.36 298.88,123.96 299.09,124.57 299.15,125.29 299.51,125.82 300.29,126.07 300.38,126.78 300.80,127.27 301.03,127.88 301.56,128.29 301.84,128.87 302.37,129.29 302.79,129.77 302.78,130.59 303.07,131.19 303.61,131.61 304.05,132.10 304.49,132.60 305.05,133.00 305.76,133.29 305.56,134.26 306.06,134.71 306.62,135.08 307.21,135.37 307.36,136.31 308.45,135.96 308.36,137.23 309.10,137.35 309.34,138.17 310.40,137.81 310.94,138.18 311.61,138.22 312.19,138.59 312.85,138.67 313.53,138.70 314.03,139.41 314.78,138.99 315.39,139.18 315.97,139.61 316.66,139.41 317.29,139.56 317.88,139.91 318.56,139.79 319.24,139.63 319.83,140.07 320.48,140.13 321.03,140.81 321.80,140.07 322.35,140.79 323.07,140.37 323.69,140.59 324.33,140.70 324.95,140.98 325.57,141.26 326.20,141.57 326.88,140.89 327.47,141.52 328.11,141.46 328.75,141.45 329.41,141.02 330.02,141.56 330.67,141.30 331.29,141.48 331.94,141.34 332.55,141.66 333.17,141.83 333.79,141.91 334.46,141.58 335.05,142.01 335.67,142.22 336.37,141.58 336.92,142.37 337.65,141.60" fill="none" stroke="#000" stroke-width="5.6" stroke-linejoin="round" stroke-linecap="round"/>
<polyline points="338.56,141.51 338.62,140.91 338.93,140.32 338.61,139.69 338.42,139.07 338.37,138.46 338.28,137.84 338.92,137.28 338.67,136.65 338.56,136.04 338.98,135.46 338.63,134.83 338.77,134.23 338.81,133.62 339.48,133.06 339.47,132.45 339.03,131.81 338.65,131.18 339.24,130.61 339.22,130.00 339.33,129.40 339.42,128.81 339.18,128.20 339.57,127.61 339.57,127.01 339.41,126.40 339.25,125.80 339.25,125.19 339.62,124.61 339.11,123.99 339.42,123.40 339.26,122.79 339.09,122.18 339.72,121.61 339.55,121.00 339.59,120.40 339.87,119.81 339.18,119.18 339.64,118.60 339.77,118.00 339.95,117.41 339.40,116.79 339.97,116.21 339.84,115.60 340.21,115.02 340.17,114.41 340.01,113.81 340.52,113.23 339.90,112.60 339.79,111.99 339.84,111.40 339.69,110.79 339.98,110.20 339.45,109.58 340.01,109.00 340.19,108.41 340.39,107.81 340.01,107.20 340.55,106.62 339.96,105.99 340.14,105.40 339.65,104.78 340.00,104.19 340.02,103.59 340.72,103.02 340.46,102.41 340.00,101.79 340.51,101.21 340.52,100.61 340.33,100.00 340.43,99.39 340.35,98.78 340.30,98.17 339.96,97.55 340.47,96.96 340.89,96.37 340.96,95.76 340.48,95.14 340.36,94.53 340.53,93.93 340.88,93.33 340.74,92.72 340.48,92.10 340.78,91.50 340.63,90.89 340.87,90.29 340.61,89.67 340.32,89.06 340.79,88.46 341.02,87.86 340.49,87.24 340.80,86.64 341.11,86.04 340.76,85.43 340.70,84.82 341.50,84.23 341.17,83.61 341.25,83.01 340.69,82.38 341.47,81.80 340.53,81.16 340.88,80.57 341.26,79.97 341.46,79.37 340.82,78.74 340.91,78.14 341.18,77.54 340.58,76.91 341.35,76.33 341.35,75.72 341.07,75.10 341.38,74.51 341.47,73.90 341.35,73.29 341.44,72.68 341.74,72.09 341.18,71.46 341.39,70.86 341.21,70.25 341.68,69.65 341.28,69.03 341.56,68.43 341.48,67.82 341.48,67.21 341.98,66.62 341.48,66.00 341.95,65.42 341.83,64.80 342.01,64.20 341.63,63.56 341.99,62.98 341.98,62.36 341.63,61.73 341.93,61.14 341.85,60.52 341.92,59.91 342.35,59.33 341.81,58.68 341.58,58.05 341.61,57.44 342.02,56.86 342.01,56.25 342.24,55.65 342.45,55.06 342.83,54.47 342.46,53.83 342.55,53.23 342.24,52.59 342.67,52.01" fill="none" stroke="#000" stroke-width="2.5" stroke-linejoin="round" stroke-linecap="round"/>
<polyline points="342.68,53.09 342.82,52.44 342.03,51.59 342.98,51.13 343.32,50.53 343.25,49.84 342.74,49.05 343.22,48.46 343.98,48.01 344.42,47.42 345.10,47.57 345.70,48.03 345.58,48.91 346.49,49.16 346.11,50.13 346.79,50.50 347.05,51.17 347.79,51.57 347.93,52.30 347.92,53.08 348.70,53.45 347.93,54.36 349.08,54.62 349.23,55.22 349.09,55.93 349.17,56.55 349.30,57.16 349.80,57.64 349.96,58.24 350.16,58.82 350.46,59.38 351.20,59.77 350.45,60.71 350.92,61.18 351.24,61.71 351.73,62.15 351.79,62.81 352.15,63.32 352.45,63.86 352.44,64.56 353.45,64.72 353.24,65.54 353.95,65.67 354.26,66.23 354.36,67.02 355.31,66.87 355.57,67.48 356.09,67.76 356.53,68.47 357.43,68.30 358.17,68.44 358.52,69.33 359.18,69.52 359.70,69.93 359.97,70.65 360.84,70.60 361.29,71.13 361.38,71.78 361.53,72.36 362.00,72.83 361.80,73.55 361.69,74.20 362.58,74.57 362.11,75.34 363.39,75.64 362.58,76.51 363.23,76.97 363.26,77.61 363.47,78.19 363.63,78.78 363.89,79.35 363.71,79.99 363.30,80.65 363.42,81.24 363.92,81.79 364.05,82.38 364.18,82.97 364.39,83.56 363.61,84.26 364.01,84.82 364.24,85.40 364.49,85.98 364.72,86.56 364.12,87.24 364.32,87.82 364.86,88.38 364.35,89.02 364.99,89.58 364.53,90.21 365.04,90.78 364.93,91.39 364.71,92.01 364.77,92.61 364.65,93.22 365.22,93.78 364.57,94.43 364.68,95.03 365.12,95.60 365.02,96.21 365.42,96.78 365.31,97.40 365.70,97.96 365.36,98.60 365.39,99.21 365.13,99.84 365.30,100.43 365.40,101.02 365.80,101.59 365.83,102.19 365.92,102.79 365.82,103.41 366.50,103.94 365.79,104.62 366.52,105.15 366.29,105.78 366.19,106.40" fill="none" stroke="#000" stroke-width="2.9" stroke-linejoin="round" stroke-linecap="round"/>
<path d="M364.84 106.37 L364.37 107.10 L364.99 107.59 L364.66 108.30 L364.90 108.87 L365.51 109.37 L365.39 110.02 L365.21 110.72 L365.77 111.33 L365.73 112.02 L366.00 112.67 L365.91 113.36 L366.12 114.02 L366.08 114.70 L365.88 115.35 L365.83 115.99 L366.25 116.58 L366.29 117.21 L366.17 117.85 L366.56 118.44 L366.84 119.04 L366.28 119.72 L366.87 120.31 L366.33 120.92 L366.88 121.54 L366.07 122.15 L366.90 122.76 L366.36 123.38 L366.17 123.99 L366.88 124.59 L366.24 125.26 L366.96 125.80 L367.29 126.39 L366.64 127.07 L366.71 127.68 L367.03 128.27 L367.76 128.81 L367.12 129.50 L367.26 130.16 L367.35 130.83 L367.40 131.51 L367.90 132.13 L367.62 132.84 L367.01 133.58 L367.17 134.33 L368.01 134.77 L368.42 135.35 L368.46 136.11 L368.61 136.82 L369.03 137.42 L369.91 137.52 L370.12 138.26 L370.60 138.72 L370.81 139.45 L371.33 139.86 L371.94 140.18 L372.28 140.79 L373.06 140.90 L373.44 141.64 L374.24 141.34 L374.76 141.78 L375.31 142.15 L376.09 141.88 L376.67 142.16 L377.38 142.10 L377.79 142.85 L378.41 142.82 L379.03 142.77 L379.63 143.04 L380.28 142.32 L380.86 142.96 L381.47 143.03 L382.08 142.96 L382.68 143.30 L383.27 143.60 L383.26 136.92 L382.62 136.83 L382.06 136.52 L381.54 136.11 L381.00 135.76 L380.26 135.93 L379.86 135.21 L379.07 135.54 L378.66 134.82 L378.03 134.70 L377.48 134.49 L377.49 133.71 L376.54 133.63 L376.16 133.10 L375.91 132.48 L375.60 131.90 L374.70 131.78 L374.66 130.98 L374.03 130.65 L373.94 129.90 L373.75 129.32 L373.23 128.88 L373.00 128.28 L372.89 127.65 L371.84 127.30 L372.67 126.37 L372.43 125.78 L372.13 125.20 L371.79 124.63 L371.57 124.03 L371.60 123.39 L371.87 122.69 L371.37 122.16 L371.66 121.46 L370.42 121.07 L370.90 120.34 L370.98 119.69 L370.83 119.08 L370.30 118.50 L370.52 117.84 L371.01 117.16 L370.22 116.61 L370.24 115.98 L370.15 115.36 L370.24 114.72 L370.46 114.05 L370.32 113.44 L369.45 112.98 L370.31 112.17 L369.61 111.67 L369.48 111.06 L370.00 110.32 L369.38 109.81 L368.81 109.39 L368.70 108.75 L368.41 108.19 L368.07 107.66 L367.98 107.01 L368.03 106.29 Z" fill="#000"/>
<line x1="60" y1="6" x2="60" y2="203.7" stroke="#000" stroke-width="1.8"/>
<line x1="59.1" y1="202.8" x2="405" y2="202.8" stroke="#000" stroke-width="1.8"/>
<line x1="55" y1="202.8" x2="60" y2="202.8" stroke="#000" stroke-width="1.8"/>
<text x="47.6" y="207.8" font-size="10.5" text-anchor="end" font-weight="normal" font-style="normal" fill="#111" >0</text>
<line x1="55" y1="163.62" x2="60" y2="163.62" stroke="#000" stroke-width="1.8"/>
<text x="47.6" y="168.62" font-size="10.5" text-anchor="end" font-weight="normal" font-style="normal" fill="#111" >0.2</text>
<line x1="55" y1="124.44000000000001" x2="60" y2="124.44000000000001" stroke="#000" stroke-width="1.8"/>
<text x="47.6" y="129.44" font-size="10.5" text-anchor="end" font-weight="normal" font-style="normal" fill="#111" >0.4</text>
<line x1="55" y1="85.26000000000002" x2="60" y2="85.26000000000002" stroke="#000" stroke-width="1.8"/>
<text x="47.6" y="90.26000000000002" font-size="10.5" text-anchor="end" font-weight="normal" font-style="normal" fill="#111" >0.6</text>
<line x1="55" y1="46.08000000000001" x2="60" y2="46.08000000000001" stroke="#000" stroke-width="1.8"/>
<text x="47.6" y="51.08000000000001" font-size="10.5" text-anchor="end" font-weight="normal" font-style="normal" fill="#111" >0.8</text>
<line x1="55" y1="6.900000000000006" x2="60" y2="6.900000000000006" stroke="#000" stroke-width="1.8"/>
<text x="47.6" y="11.900000000000006" font-size="10.5" text-anchor="end" font-weight="normal" font-style="normal" fill="#111" >1.0</text>
<line x1="60.0" y1="202.8" x2="60.0" y2="207.4" stroke="#000" stroke-width="1.8"/>
<text x="64.1" y="222.5" font-size="10.5" text-anchor="middle" font-weight="normal" font-style="normal" fill="#111" >0</text>
<line x1="103.0" y1="202.8" x2="103.0" y2="207.4" stroke="#000" stroke-width="1.8"/>
<text x="103.0" y="222.5" font-size="10.5" text-anchor="middle" font-weight="normal" font-style="normal" fill="#111" >10</text>
<line x1="146.0" y1="202.8" x2="146.0" y2="207.4" stroke="#000" stroke-width="1.8"/>
<text x="146.0" y="222.5" font-size="10.5" text-anchor="middle" font-weight="normal" font-style="normal" fill="#111" >20</text>
<line x1="189.0" y1="202.8" x2="189.0" y2="207.4" stroke="#000" stroke-width="1.8"/>
<text x="189.0" y="222.5" font-size="10.5" text-anchor="middle" font-weight="normal" font-style="normal" fill="#111" >30</text>
<line x1="232.0" y1="202.8" x2="232.0" y2="207.4" stroke="#000" stroke-width="1.8"/>
<text x="232.0" y="222.5" font-size="10.5" text-anchor="middle" font-weight="normal" font-style="normal" fill="#111" >40</text>
<line x1="275.0" y1="202.8" x2="275.0" y2="207.4" stroke="#000" stroke-width="1.8"/>
<text x="275.0" y="222.5" font-size="10.5" text-anchor="middle" font-weight="normal" font-style="normal" fill="#111" >50</text>
<line x1="318.0" y1="202.8" x2="318.0" y2="207.4" stroke="#000" stroke-width="1.8"/>
<text x="318.0" y="222.5" font-size="10.5" text-anchor="middle" font-weight="normal" font-style="normal" fill="#111" >60</text>
<line x1="361.0" y1="202.8" x2="361.0" y2="207.4" stroke="#000" stroke-width="1.8"/>
<text x="361.0" y="222.5" font-size="10.5" text-anchor="middle" font-weight="normal" font-style="normal" fill="#111" >70</text>
<line x1="404.0" y1="202.8" x2="404.0" y2="207.4" stroke="#000" stroke-width="1.8"/>
<text x="404.0" y="222.5" font-size="10.5" text-anchor="middle" font-weight="normal" font-style="normal" fill="#111" >80</text>
<text x="230.5" y="240.2" font-size="13" text-anchor="middle" font-weight="normal" font-style="normal" fill="#111" >Time (minutes)</text>
<text transform="translate(16.4,106.4) rotate(-90)" font-size="13" text-anchor="middle" fill="#111">Islet Cytosolic Ca<tspan font-size="7.6" dy="-4.6">2+</tspan><tspan dy="4.6"> (F</tspan><tspan font-size="7.6" dy="3.3">340</tspan><tspan dy="-3.3">/F</tspan><tspan font-size="7.6" dy="3.3">380</tspan><tspan dy="-3.3">)</tspan></text>
<line x1="76" y1="24.7" x2="89.5" y2="24.7" stroke="#000" stroke-width="2.6"/>
<line x1="76" y1="37.6" x2="89.5" y2="37.6" stroke="#3E59A6" stroke-width="2.6"/>
<text x="92.1" y="29.0" font-size="10.6" text-anchor="start" font-weight="normal" font-style="normal" fill="#111" >WT</text>
<text x="91.7" y="41.4" font-size="10.6" text-anchor="start" font-weight="normal" font-style="normal" fill="#111" >Bax-Bak DKO</text>
<text x="1.5" y="13.5" font-size="15.5" text-anchor="start" font-weight="bold" font-style="normal" fill="#000" >a</text>
<line x1="474.6" y1="127.9" x2="474.6" y2="126.2" stroke="#000" stroke-width="1.8"/>
<line x1="468.1" y1="126.2" x2="481.1" y2="126.2" stroke="#000" stroke-width="1.8"/>
<line x1="496.8" y1="123" x2="496.8" y2="121.2" stroke="#000" stroke-width="1.8"/>
<line x1="490.40000000000003" y1="121.2" x2="503.2" y2="121.2" stroke="#000" stroke-width="1.8"/>
<rect x="462" y="126.9" width="23.399999999999977" height="75.1" fill="#000"/>
<rect x="485.45" y="122.75" width="22.30000000000001" height="79.25" fill="#3E59A6" stroke="#000" stroke-width="1.5"/>
<line x1="530.8" y1="50.7" x2="530.8" y2="47" stroke="#000" stroke-width="1.8"/>
<line x1="524.3" y1="47" x2="537.3" y2="47" stroke="#000" stroke-width="1.8"/>
<line x1="553.5" y1="56" x2="553.5" y2="49.4" stroke="#000" stroke-width="1.8"/>
<line x1="547.1" y1="49.4" x2="559.9" y2="49.4" stroke="#000" stroke-width="1.8"/>
<rect x="518.2" y="49.7" width="24.5" height="152.3" fill="#000"/>
<rect x="542.75" y="55.75" width="21.399999999999977" height="146.25" fill="#3E59A6" stroke="#000" stroke-width="1.5"/>
<line x1="586.8" y1="41.7" x2="586.8" y2="38.8" stroke="#000" stroke-width="1.8"/>
<line x1="580.3" y1="38.8" x2="593.3" y2="38.8" stroke="#000" stroke-width="1.8"/>
<line x1="609" y1="51.3" x2="609" y2="45.3" stroke="#000" stroke-width="1.8"/>
<line x1="602.6" y1="45.3" x2="615.4" y2="45.3" stroke="#000" stroke-width="1.8"/>
<rect x="575" y="40.7" width="23.899999999999977" height="161.3" fill="#000"/>
<rect x="598.9499999999999" y="51.05" width="21.500000000000114" height="150.95" fill="#3E59A6" stroke="#000" stroke-width="1.5"/>
<line x1="642.8" y1="23.6" x2="642.8" y2="22.5" stroke="#000" stroke-width="1.8"/>
<line x1="636.3" y1="22.5" x2="649.3" y2="22.5" stroke="#000" stroke-width="1.8"/>
<line x1="665.4" y1="25.3" x2="665.4" y2="17.2" stroke="#000" stroke-width="1.8"/>
<line x1="659.0" y1="17.2" x2="671.8" y2="17.2" stroke="#000" stroke-width="1.8"/>
<rect x="631.3" y="22.6" width="23.5" height="179.4" fill="#000"/>
<rect x="654.8499999999999" y="25.05" width="21.800000000000068" height="176.95" fill="#3E59A6" stroke="#000" stroke-width="1.5"/>
<line x1="457.7" y1="6" x2="457.7" y2="202.9" stroke="#000" stroke-width="1.8"/>
<line x1="452" y1="202" x2="682" y2="202" stroke="#000" stroke-width="1.8"/>
<line x1="452.5" y1="202.0" x2="457.7" y2="202.0" stroke="#000" stroke-width="1.8"/>
<text x="442.3" y="206.5" font-size="10.5" text-anchor="end" font-weight="normal" font-style="normal" fill="#111" >0</text>
<line x1="452.5" y1="153.25" x2="457.7" y2="153.25" stroke="#000" stroke-width="1.8"/>
<text x="442.3" y="157.75" font-size="10.5" text-anchor="end" font-weight="normal" font-style="normal" fill="#111" >1</text>
<line x1="452.5" y1="104.5" x2="457.7" y2="104.5" stroke="#000" stroke-width="1.8"/>
<text x="442.3" y="109.0" font-size="10.5" text-anchor="end" font-weight="normal" font-style="normal" fill="#111" >2</text>
<line x1="452.5" y1="55.75" x2="457.7" y2="55.75" stroke="#000" stroke-width="1.8"/>
<text x="442.3" y="60.25" font-size="10.5" text-anchor="end" font-weight="normal" font-style="normal" fill="#111" >3</text>
<line x1="452.5" y1="7.0" x2="457.7" y2="7.0" stroke="#000" stroke-width="1.8"/>
<text x="442.3" y="11.5" font-size="10.5" text-anchor="end" font-weight="normal" font-style="normal" fill="#111" >4</text>
<line x1="486.0" y1="202" x2="486.0" y2="206.8" stroke="#000" stroke-width="1.8"/>
<text x="486" y="222.8" font-size="10.5" text-anchor="middle" font-weight="normal" font-style="normal" fill="#111" >6G</text>
<line x1="542.2" y1="202" x2="542.2" y2="206.8" stroke="#000" stroke-width="1.8"/>
<text x="543.3" y="222.8" font-size="10.5" text-anchor="middle" font-weight="normal" font-style="normal" fill="#111" >10G</text>
<line x1="598.4" y1="202" x2="598.4" y2="206.8" stroke="#000" stroke-width="1.8"/>
<text x="598.5" y="222.8" font-size="10.5" text-anchor="middle" font-weight="normal" font-style="normal" fill="#111" >15G</text>
<line x1="654.6" y1="202" x2="654.6" y2="206.8" stroke="#000" stroke-width="1.8"/>
<text x="654.8" y="222.8" font-size="10.5" text-anchor="middle" font-weight="normal" font-style="normal" fill="#111" >KCl</text>
<text transform="translate(424.9,106.5) rotate(-90)" font-size="13" text-anchor="middle" fill="#111">AUC (a.u./5 min)</text>
<rect x="472" y="10.8" width="9.8" height="8.1" fill="#000"/>
<rect x="472.6" y="23.8" width="8.6" height="7.2" fill="#3E59A6" stroke="#000" stroke-width="1.2"/>
<text x="485.7" y="19.3" font-size="10.6" text-anchor="start" font-weight="normal" font-style="normal" fill="#111" >WT</text>
<text x="485.1" y="31.6" font-size="10.6" text-anchor="start" font-weight="normal" font-style="normal" fill="#111" >Bax-Bak DKO</text>
<text x="413.8" y="15" font-size="15.5" text-anchor="start" font-weight="bold" font-style="normal" fill="#000" >b</text>
<line x1="117.7" y1="353" x2="117.7" y2="341.9" stroke="#000" stroke-width="1.8"/>
<line x1="110.2" y1="341.9" x2="125.2" y2="341.9" stroke="#000" stroke-width="1.8"/>
<line x1="188.3" y1="332" x2="188.3" y2="310" stroke="#000" stroke-width="1.8"/>
<line x1="180.20000000000002" y1="310" x2="196.4" y2="310" stroke="#000" stroke-width="1.8"/>
<line x1="81.3" y1="430.1" x2="96.3" y2="430.1" stroke="#000" stroke-width="1.8"/>
<line x1="151.5" y1="433" x2="166.6" y2="433" stroke="#000" stroke-width="1.8"/>
<rect x="75" y="430.9" width="27.599999999999994" height="7.100000000000023" fill="#000"/>
<rect x="102.6" y="352.1" width="30.099999999999994" height="85.89999999999998" fill="#000"/>
<rect x="146.10000000000002" y="433.90000000000003" width="26.499999999999993" height="4.099999999999977" fill="#3E59A6" stroke="#000" stroke-width="1.6"/>
<rect x="174.20000000000002" y="331.6" width="27.999999999999993" height="106.39999999999999" fill="#3E59A6" stroke="#000" stroke-width="1.6"/>
<line x1="68.8" y1="274" x2="68.8" y2="438.9" stroke="#000" stroke-width="1.8"/>
<line x1="63" y1="438" x2="209" y2="438" stroke="#000" stroke-width="1.8"/>
<line x1="63.5" y1="438.0" x2="68.8" y2="438.0" stroke="#000" stroke-width="1.8"/>
<text x="57.2" y="442.8" font-size="10.5" text-anchor="end" font-weight="normal" font-style="normal" fill="#111" >0</text>
<line x1="63.5" y1="417.6" x2="68.8" y2="417.6" stroke="#000" stroke-width="1.8"/>
<text x="57.2" y="422.40000000000003" font-size="10.5" text-anchor="end" font-weight="normal" font-style="normal" fill="#111" >0.5</text>
<line x1="63.5" y1="397.2" x2="68.8" y2="397.2" stroke="#000" stroke-width="1.8"/>
<text x="57.2" y="402.0" font-size="10.5" text-anchor="end" font-weight="normal" font-style="normal" fill="#111" >1.0</text>
<line x1="63.5" y1="376.8" x2="68.8" y2="376.8" stroke="#000" stroke-width="1.8"/>
<text x="57.2" y="381.6" font-size="10.5" text-anchor="end" font-weight="normal" font-style="normal" fill="#111" >1.5</text>
<line x1="63.5" y1="356.4" x2="68.8" y2="356.4" stroke="#000" stroke-width="1.8"/>
<text x="57.2" y="361.2" font-size="10.5" text-anchor="end" font-weight="normal" font-style="normal" fill="#111" >2.0</text>
<line x1="63.5" y1="336.0" x2="68.8" y2="336.0" stroke="#000" stroke-width="1.8"/>
<text x="57.2" y="340.8" font-size="10.5" text-anchor="end" font-weight="normal" font-style="normal" fill="#111" >2.5</text>
<line x1="63.5" y1="315.6" x2="68.8" y2="315.6" stroke="#000" stroke-width="1.8"/>
<text x="57.2" y="320.40000000000003" font-size="10.5" text-anchor="end" font-weight="normal" font-style="normal" fill="#111" >3.0</text>
<line x1="63.5" y1="295.20000000000005" x2="68.8" y2="295.20000000000005" stroke="#000" stroke-width="1.8"/>
<text x="57.2" y="300.00000000000006" font-size="10.5" text-anchor="end" font-weight="normal" font-style="normal" fill="#111" >3.5</text>
<line x1="63.5" y1="274.8" x2="68.8" y2="274.8" stroke="#000" stroke-width="1.8"/>
<text x="57.2" y="279.6" font-size="10.5" text-anchor="end" font-weight="normal" font-style="normal" fill="#111" >4.0</text>
<line x1="88.8" y1="438" x2="88.8" y2="443" stroke="#000" stroke-width="1.8"/>
<text x="88.8" y="453.6" font-size="10.5" text-anchor="middle" font-weight="normal" font-style="normal" fill="#111" >3G</text>
<line x1="117.7" y1="438" x2="117.7" y2="443" stroke="#000" stroke-width="1.8"/>
<text x="118.2" y="453.6" font-size="10.5" text-anchor="middle" font-weight="normal" font-style="normal" fill="#111" >20G</text>
<line x1="156.9" y1="438" x2="156.9" y2="443" stroke="#000" stroke-width="1.8"/>
<text x="157.4" y="453.6" font-size="10.5" text-anchor="middle" font-weight="normal" font-style="normal" fill="#111" >3G</text>
<line x1="187.5" y1="438" x2="187.5" y2="443" stroke="#000" stroke-width="1.8"/>
<text x="188.4" y="453.6" font-size="10.5" text-anchor="middle" font-weight="normal" font-style="normal" fill="#111" >20G</text>
<text transform="translate(13.1,357) rotate(-90)" font-size="13" text-anchor="middle" fill="#111">Insulin Secretion</text>
<text transform="translate(28.9,357) rotate(-90)" font-size="13" text-anchor="middle" fill="#111">(ng/mL/islet/hr)</text>
<rect x="81.1" y="277.6" width="10.3" height="8.2" fill="#000"/>
<rect x="81.7" y="291" width="9.1" height="6.9" fill="#3E59A6" stroke="#000" stroke-width="1.2"/>
<text x="95.9" y="285.7" font-size="11.3" text-anchor="start" font-weight="normal" font-style="normal" fill="#111" >WT</text>
<text x="95.3" y="297.9" font-size="11.3" text-anchor="start" font-weight="normal" font-style="normal" fill="#111" >Bax-Bak DKO</text>
<text x="1.4" y="281" font-size="15.5" text-anchor="start" font-weight="bold" font-style="normal" fill="#000" >c</text>
<line x1="329.4" y1="321" x2="329.4" y2="305" stroke="#000" stroke-width="1.8"/>
<line x1="321.2" y1="305" x2="337.59999999999997" y2="305" stroke="#000" stroke-width="1.8"/>
<line x1="368.7" y1="335" x2="368.7" y2="326" stroke="#000" stroke-width="1.8"/>
<line x1="360.45" y1="326" x2="376.95" y2="326" stroke="#000" stroke-width="1.8"/>
<rect x="313.8" y="319.8" width="31.19999999999999" height="118.19999999999999" fill="#000"/>
<rect x="352.3" y="334.5" width="29.799999999999976" height="103.50000000000001" fill="#3E59A6" stroke="#000" stroke-width="1.6"/>
<line x1="307" y1="274" x2="307" y2="438.9" stroke="#000" stroke-width="1.8"/>
<line x1="301" y1="438" x2="392.3" y2="438" stroke="#000" stroke-width="1.8"/>
<line x1="301.5" y1="438.1" x2="307" y2="438.1" stroke="#000" stroke-width="1.8"/>
<text x="293.8" y="442.8" font-size="10.5" text-anchor="end" font-weight="normal" font-style="normal" fill="#111" >0</text>
<line x1="301.5" y1="405.42" x2="307" y2="405.42" stroke="#000" stroke-width="1.8"/>
<text x="293.8" y="410.12" font-size="10.5" text-anchor="end" font-weight="normal" font-style="normal" fill="#111" >200</text>
<line x1="301.5" y1="372.74" x2="307" y2="372.74" stroke="#000" stroke-width="1.8"/>
<text x="293.8" y="377.44" font-size="10.5" text-anchor="end" font-weight="normal" font-style="normal" fill="#111" >400</text>
<line x1="301.5" y1="340.06000000000006" x2="307" y2="340.06000000000006" stroke="#000" stroke-width="1.8"/>
<text x="293.8" y="344.76000000000005" font-size="10.5" text-anchor="end" font-weight="normal" font-style="normal" fill="#111" >600</text>
<line x1="301.5" y1="307.38" x2="307" y2="307.38" stroke="#000" stroke-width="1.8"/>
<text x="293.8" y="312.08" font-size="10.5" text-anchor="end" font-weight="normal" font-style="normal" fill="#111" >800</text>
<line x1="301.5" y1="274.70000000000005" x2="307" y2="274.70000000000005" stroke="#000" stroke-width="1.8"/>
<text x="293.8" y="279.40000000000003" font-size="10.5" text-anchor="end" font-weight="normal" font-style="normal" fill="#111" >1000</text>
<text transform="translate(246.2,356.6) rotate(-90)" font-size="13" text-anchor="middle" fill="#111">Insulin Content</text>
<text transform="translate(262.6,356.2) rotate(-90)" font-size="13" text-anchor="middle" fill="#111">(ng/mL/5 islets)</text>
<text x="234.3" y="281" font-size="15.5" text-anchor="start" font-weight="bold" font-style="normal" fill="#000" >d</text>
<line x1="479.5" y1="322" x2="479.5" y2="305.3" stroke="#000" stroke-width="1.8"/>
<line x1="471.8" y1="305.3" x2="487.2" y2="305.3" stroke="#000" stroke-width="1.8"/>
<line x1="513.4" y1="303" x2="513.4" y2="289.8" stroke="#000" stroke-width="1.8"/>
<line x1="506.0" y1="289.8" x2="520.8" y2="289.8" stroke="#000" stroke-width="1.8"/>
<rect x="464.5" y="320.7" width="29.0" height="117.30000000000001" fill="#000"/>
<rect x="500.0" y="302.90000000000003" width="26.900000000000055" height="135.09999999999997" fill="#3E59A6" stroke="#000" stroke-width="1.6"/>
<line x1="458.5" y1="273.4" x2="458.5" y2="438.9" stroke="#000" stroke-width="1.8"/>
<line x1="454" y1="438" x2="533.6" y2="438" stroke="#000" stroke-width="1.8"/>
<line x1="454" y1="438.0" x2="458.5" y2="438.0" stroke="#000" stroke-width="1.8"/>
<text x="450.6" y="442.8" font-size="10.5" text-anchor="end" font-weight="normal" font-style="normal" fill="#111" >0</text>
<line x1="454" y1="405.18" x2="458.5" y2="405.18" stroke="#000" stroke-width="1.8"/>
<text x="450.6" y="409.98" font-size="10.5" text-anchor="end" font-weight="normal" font-style="normal" fill="#111" >20</text>
<line x1="454" y1="372.36" x2="458.5" y2="372.36" stroke="#000" stroke-width="1.8"/>
<text x="450.6" y="377.16" font-size="10.5" text-anchor="end" font-weight="normal" font-style="normal" fill="#111" >40</text>
<line x1="454" y1="339.53999999999996" x2="458.5" y2="339.53999999999996" stroke="#000" stroke-width="1.8"/>
<text x="450.6" y="344.34" font-size="10.5" text-anchor="end" font-weight="normal" font-style="normal" fill="#111" >60</text>
<line x1="454" y1="306.72" x2="458.5" y2="306.72" stroke="#000" stroke-width="1.8"/>
<text x="450.6" y="311.52000000000004" font-size="10.5" text-anchor="end" font-weight="normal" font-style="normal" fill="#111" >80</text>
<line x1="454" y1="273.9" x2="458.5" y2="273.9" stroke="#000" stroke-width="1.8"/>
<text x="450.6" y="278.7" font-size="10.5" text-anchor="end" font-weight="normal" font-style="normal" fill="#111" >100</text>
<text transform="translate(426.3,356.8) rotate(-90)" font-size="13" text-anchor="middle" font-style="italic" fill="#111">Ins1 / β-actin</text>
<line x1="630.8" y1="328" x2="630.8" y2="305.3" stroke="#000" stroke-width="1.8"/>
<line x1="623.1999999999999" y1="305.3" x2="638.4" y2="305.3" stroke="#000" stroke-width="1.8"/>
<line x1="664.3" y1="327" x2="664.3" y2="311" stroke="#000" stroke-width="1.8"/>
<line x1="656.55" y1="311" x2="672.05" y2="311" stroke="#000" stroke-width="1.8"/>
<rect x="615.3" y="326.8" width="29.300000000000068" height="111.19999999999999" fill="#000"/>
<rect x="650.3" y="326.3" width="27.50000000000002" height="111.7" fill="#3E59A6" stroke="#000" stroke-width="1.6"/>
<line x1="609.6" y1="273.4" x2="609.6" y2="438.9" stroke="#000" stroke-width="1.8"/>
<line x1="604.7" y1="438" x2="685" y2="438" stroke="#000" stroke-width="1.8"/>
<line x1="604.7" y1="438.0" x2="609.6" y2="438.0" stroke="#000" stroke-width="1.8"/>
<text x="601.3" y="442.8" font-size="10.5" text-anchor="end" font-weight="normal" font-style="normal" fill="#111" >0</text>
<line x1="604.7" y1="396.98" x2="609.6" y2="396.98" stroke="#000" stroke-width="1.8"/>
<text x="601.3" y="401.78000000000003" font-size="10.5" text-anchor="end" font-weight="normal" font-style="normal" fill="#111" >50</text>
<line x1="604.7" y1="355.96" x2="609.6" y2="355.96" stroke="#000" stroke-width="1.8"/>
<text x="601.3" y="360.76" font-size="10.5" text-anchor="end" font-weight="normal" font-style="normal" fill="#111" >100</text>
<line x1="604.7" y1="314.94" x2="609.6" y2="314.94" stroke="#000" stroke-width="1.8"/>
<text x="601.3" y="319.74" font-size="10.5" text-anchor="end" font-weight="normal" font-style="normal" fill="#111" >150</text>
<line x1="604.7" y1="273.91999999999996" x2="609.6" y2="273.91999999999996" stroke="#000" stroke-width="1.8"/>
<text x="601.3" y="278.71999999999997" font-size="10.5" text-anchor="end" font-weight="normal" font-style="normal" fill="#111" >200</text>
<text transform="translate(572.2,357) rotate(-90)" font-size="13" text-anchor="middle" font-style="italic" fill="#111">Ins2 / β-actin</text>
<text x="413.6" y="280.8" font-size="15.5" text-anchor="start" font-weight="bold" font-style="normal" fill="#000" >e</text>
</svg>
</body></html>
